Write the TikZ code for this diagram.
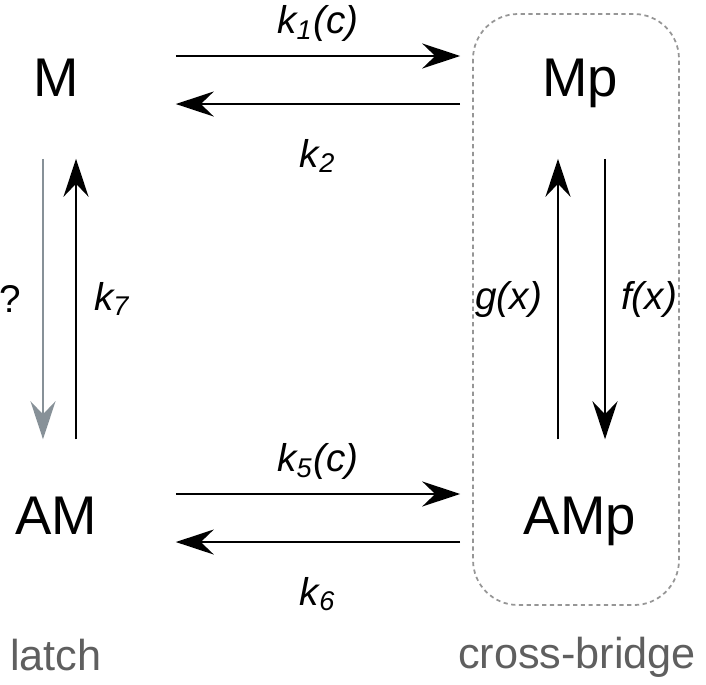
\documentclass[tikz,border=0pt]{standalone}
\usepackage{fontspec}
\setmainfont{Liberation Sans}
\usetikzlibrary{arrows.meta}

\definecolor{qgray}{RGB}{135,145,152}
\definecolor{boxgray}{RGB}{150,150,150}
\definecolor{labgray}{RGB}{95,95,95}

\tikzset{
  state/.style={font=\fontsize{15.5}{18}\selectfont, minimum width=2.38cm, minimum height=1.56cm,
    text height=11pt, text depth=1.4pt, inner sep=0pt},
  rate/.style={line width=0.6pt, -{Stealth[length=3.8mm,width=2.5mm,inset=1.3mm]}},
  ratelab/.style={font=\fontsize{11}{13}\selectfont\itshape, inner sep=0pt},
  group/.style={font=\fontsize{12.3}{14}\selectfont, text=labgray, inner sep=0pt, anchor=base},
}

\begin{document}
\begin{tikzpicture}[x=0.01cm, y=-0.01cm]
    \useasboundingbox (0,0) rectangle (706,684);

    % dashed box round the cross-bridge states
    \draw[boxgray, line width=0.5pt, dash pattern=on 1.2pt off 1pt, rounded corners=0.45cm]
        (473,14) rectangle (679,605);

    \node[state] (m) at (56,80) {M};
    \node[state] (mp) at (580,80) {Mp};
    \node[state] (am) at (56,518) {AM};
    \node[state] (amp) at (580,518) {AMp};

    % horizontal rates
    \draw[rate] ([yshift=0.24cm]m.east) -- ([yshift=0.24cm]mp.west)
        node[ratelab, midway, above=1.3mm] (k1) {k\textsubscript{1}(c)};
    \draw[rate] ([yshift=-0.24cm]mp.west) -- ([yshift=-0.24cm]m.east)
        node[ratelab, midway, below=3.4mm] (k2) {k\textsubscript{2}};
    \draw[rate] ([yshift=0.24cm]am.east) -- ([yshift=0.24cm]amp.west)
        node[ratelab, midway, above=1.3mm] (k5) {k\textsubscript{5}(c)};
    \draw[rate] ([yshift=-0.24cm]amp.west) -- ([yshift=-0.24cm]am.east)
        node[ratelab, midway, below=3.4mm] (k6) {k\textsubscript{6}};

    % vertical rates
    \draw[rate, qgray] ([xshift=-0.13cm]m.south) -- ([xshift=-0.13cm]am.north)
        node[ratelab, midway, left=2.1mm, font=\fontsize{11}{13}\selectfont, text=black] (q) {?};
    \draw[rate] ([xshift=0.20cm]am.north) -- ([xshift=0.20cm]m.south)
        node[ratelab, midway, right=1.7mm] (k7) {k\textsubscript{7}};
    \draw[rate] ([xshift=-0.22cm]amp.north) -- ([xshift=-0.22cm]mp.south)
        node[ratelab, midway, left=1.5mm] (g) {g(x)};
    \draw[rate] ([xshift=0.25cm]mp.south) -- ([xshift=0.25cm]amp.north)
        node[ratelab, midway, right=1.5mm] (f) {f(x)};

    \node[group] (latch) at (56,670) {latch};
    \node[group] (xbridge) at (577,668) {cross-bridge};
\end{tikzpicture}
\end{document}
